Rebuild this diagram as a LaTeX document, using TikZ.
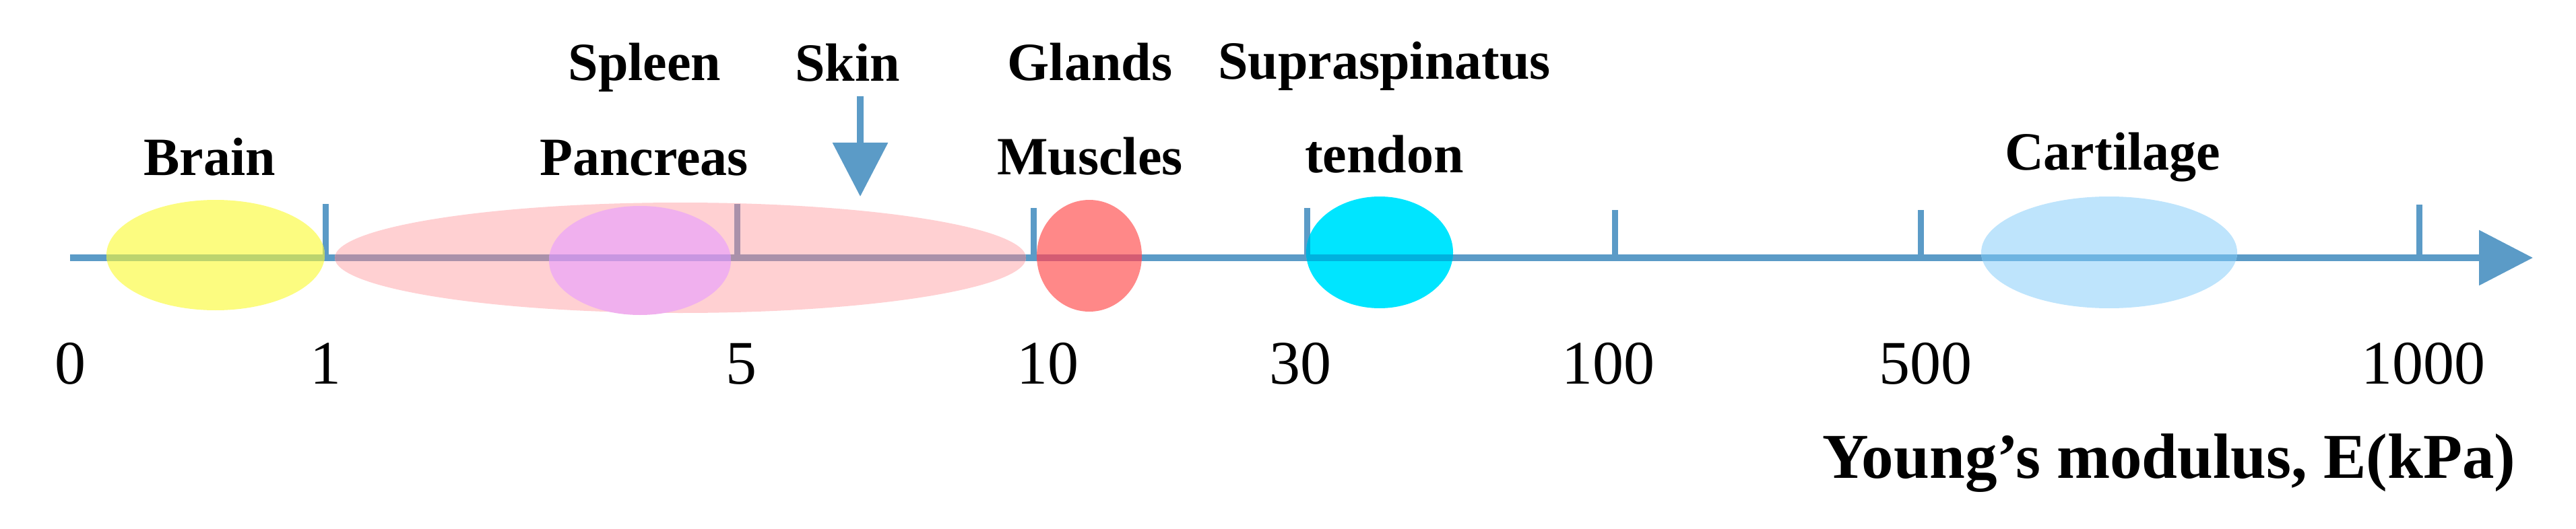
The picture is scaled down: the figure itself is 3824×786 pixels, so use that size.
\documentclass[tikz,border=0pt]{standalone}
\usepackage{fontspec}
\setmainfont{Liberation Serif}
\usetikzlibrary{arrows.meta}
\definecolor{axisblue}{RGB}{91,155,199}
\definecolor{brainfill}{RGB}{252,252,128}
\definecolor{brainaxis}{RGB}{188,212,110}
\definecolor{pinkfill}{RGB}{255,208,210}
\definecolor{pinkaxis}{RGB}{170,145,170}
\definecolor{spleenfill}{RGB}{240,176,238}
\definecolor{spleenaxis}{RGB}{200,150,225}
\definecolor{musclefill}{RGB}{255,136,136}
\definecolor{muscleaxis}{RGB}{212,92,115}
\definecolor{tendonfill}{RGB}{0,229,255}
\definecolor{tendonaxis}{RGB}{0,178,222}
\definecolor{cartfill}{RGB}{190,228,252}
\definecolor{cartaxis}{RGB}{110,180,225}
\tikzset{
  axisline/.style={line width=10pt, draw=axisblue},
  bigarrow/.style={-{Triangle[length=80pt,width=80pt]}},
  organ/.style={font=\fontsize{80}{90}\selectfont\bfseries, anchor=base, inner sep=0pt},
  numlab/.style={font=\fontsize{92}{100}\selectfont, anchor=base, inner sep=0pt},
  axistitle/.style={font=\fontsize{95}{100}\selectfont\bfseries, anchor=base, inner sep=0pt},
}
\newcommand{\axisparts}[1]{%
  \draw[line width=10pt,draw=#1] (104,383) -- (3690,383);
  \foreach \px/\py in {483/303,1094/303,1534/309,1940/309,2397/312,2851/312,3591/304}
    \draw[line width=9pt,draw=#1] (\px,\py) -- (\px,383);
}
\newcommand{\organblob}[6]{%
  \fill[#5] (#1,#2) ellipse [x radius=#3pt, y radius=#4pt];
  \begin{scope}
    \clip (#1,#2) ellipse [x radius=#3pt, y radius=#4pt];
    \axisparts{#6}
  \end{scope}
}
\begin{document}
\begin{tikzpicture}[x=1pt,y=-1pt]
\useasboundingbox (0,0) rectangle (3824,786);
% axis
\coordinate (axstart) at (104,383);
\coordinate (axend) at (3760,383);
\draw[axisline, bigarrow] (axstart) -- (axend);
\foreach \px/\py in {483/303,1094/303,1534/309,1940/309,2397/312,2851/312,3591/304}
  \draw[line width=9pt,draw=axisblue] (\px,\py) -- (\px,383);
% ellipses
\organblob{320}{379}{162}{82}{brainfill}{brainaxis}
\organblob{1010}{383}{513}{82}{pinkfill}{pinkaxis}
\organblob{950}{387}{135}{81}{spleenfill}{spleenaxis}
\organblob{1617}{380}{78}{83}{musclefill}{muscleaxis}
\organblob{2048}{375}{109}{83}{tendonfill}{tendonaxis}
\organblob{3131}{375}{190}{83}{cartfill}{cartaxis}
% skin arrow
\coordinate (skintop) at (1277,143);
\coordinate (skintip) at (1277,292);
\draw[axisline, bigarrow] (skintop) -- (skintip);
% organ labels
\node[organ] (brain) at (311,261) {Brain};
\node[organ] (spleen) at (957,120) {Spleen};
\node[organ] (skin) at (1258,121) {Skin};
\node[organ] (pancreas) at (956,261) {Pancreas};
\node[organ] (glands) at (1618,120) {Glands};
\node[organ] (muscles) at (1618,260) {Muscles};
\node[organ] (supra) at (2055,118) {Supraspinatus};
\node[organ] (tendon) at (2055,257) {tendon};
\node[organ] (cartilage) at (3136,253) {Cartilage};
% numbers
\node[numlab] (n0) at (104,570) {0};
\node[numlab] (n1) at (483,570) {1};
\node[numlab] (n5) at (1100,570) {5};
\node[numlab] (n10) at (1555,570) {10};
\node[numlab] (n30) at (1930,570) {30};
\node[numlab] (n100) at (2387,570) {100};
\node[numlab] (n500) at (2858,570) {500};
\node[numlab] (n1000) at (3597,570) {1000};
% axis title
\node[axistitle] (title) at (3220,710) {Young’s modulus, E(kPa)};
\end{tikzpicture}
\end{document}
